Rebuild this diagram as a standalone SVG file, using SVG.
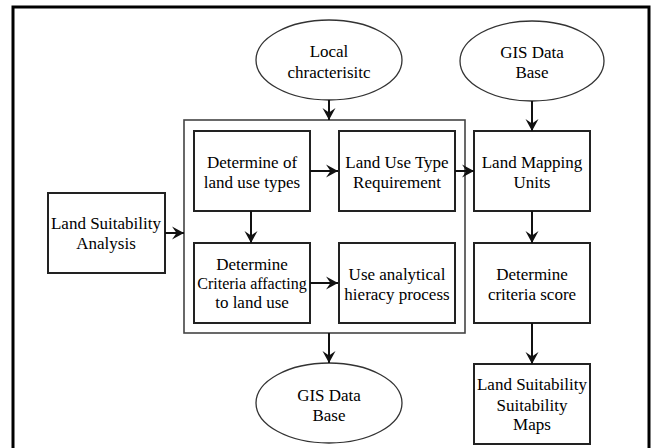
<svg xmlns="http://www.w3.org/2000/svg" width="653" height="448" viewBox="0 0 653 448">
<defs>
<marker id="ah" markerUnits="userSpaceOnUse" markerWidth="14" markerHeight="14" viewBox="-13 -7 14 14" refX="0" refY="0" orient="auto">
<path d="M0,0 L-12,-6.5 L-7.5,0 L-12,6.5 Z" fill="#111"/>
</marker>
</defs>
<rect width="653" height="448" fill="#fff"/>
<rect x="13" y="7" width="636" height="460" fill="none" stroke="#000" stroke-width="3"/>
<g id="container"><rect x="184" y="120" width="281" height="213" fill="none" stroke="#444" stroke-width="1.6"/></g>
<g id="local"><ellipse cx="329" cy="60" rx="73" ry="40" fill="#fff" stroke="#333" stroke-width="1.3"/><text x="329" y="57" font-family="Liberation Serif" font-size="17" text-anchor="middle">Local</text><text x="329" y="78" font-family="Liberation Serif" font-size="17" text-anchor="middle">chracterisitc</text></g>
<g id="gis-top"><ellipse cx="532" cy="61" rx="72" ry="40" fill="#fff" stroke="#333" stroke-width="1.3"/><text x="532" y="58" font-family="Liberation Serif" font-size="17" text-anchor="middle">GIS Data</text><text x="532" y="78" font-family="Liberation Serif" font-size="17" text-anchor="middle">Base</text></g>
<g id="determine-types"><rect x="194" y="131" width="116" height="80" fill="#fff" stroke="#222" stroke-width="2"/><text x="252" y="168" font-family="Liberation Serif" font-size="17" text-anchor="middle">Determine of</text><text x="252" y="188" font-family="Liberation Serif" font-size="17" text-anchor="middle">land use types</text></g>
<g id="land-use-req"><rect x="339" y="131" width="116" height="80" fill="#fff" stroke="#222" stroke-width="2"/><text x="397" y="168" font-family="Liberation Serif" font-size="17" text-anchor="middle">Land Use Type</text><text x="397" y="188" font-family="Liberation Serif" font-size="17" text-anchor="middle">Requirement</text></g>
<g id="determine-criteria"><rect x="194" y="243" width="116" height="80" fill="#fff" stroke="#222" stroke-width="2"/><text x="252" y="270" font-family="Liberation Serif" font-size="17" text-anchor="middle">Determine</text><text x="252" y="289" font-family="Liberation Serif" font-size="16" text-anchor="middle">Criteria affacting</text><text x="252" y="308" font-family="Liberation Serif" font-size="17" text-anchor="middle">to land use</text></g>
<g id="ahp"><rect x="339" y="243" width="116" height="80" fill="#fff" stroke="#222" stroke-width="2"/><text x="397" y="280" font-family="Liberation Serif" font-size="17" text-anchor="middle">Use analytical</text><text x="397" y="300" font-family="Liberation Serif" font-size="17" text-anchor="middle">hieracy process</text></g>
<g id="land-mapping"><rect x="474" y="131" width="116" height="80" fill="#fff" stroke="#222" stroke-width="2"/><text x="532" y="168" font-family="Liberation Serif" font-size="17" text-anchor="middle">Land Mapping</text><text x="532" y="188" font-family="Liberation Serif" font-size="17" text-anchor="middle">Units</text></g>
<g id="criteria-score"><rect x="474" y="243" width="116" height="80" fill="#fff" stroke="#222" stroke-width="2"/><text x="532" y="280" font-family="Liberation Serif" font-size="17" text-anchor="middle">Determine</text><text x="532" y="300" font-family="Liberation Serif" font-size="17" text-anchor="middle">criteria score</text></g>
<g id="suitability-maps"><rect x="474" y="364" width="116" height="80" fill="#fff" stroke="#222" stroke-width="2"/><text x="532" y="390" font-family="Liberation Serif" font-size="17" text-anchor="middle">Land Suitability</text><text x="532" y="411" font-family="Liberation Serif" font-size="17" text-anchor="middle">Suitability</text><text x="532" y="430" font-family="Liberation Serif" font-size="17" text-anchor="middle">Maps</text></g>
<g id="lsa"><rect x="48" y="193" width="117" height="80" fill="#fff" stroke="#222" stroke-width="2"/><text x="106" y="229" font-family="Liberation Serif" font-size="17" text-anchor="middle">Land Suitability</text><text x="106" y="249" font-family="Liberation Serif" font-size="17" text-anchor="middle">Analysis</text></g>
<g id="gis-bottom"><ellipse cx="329" cy="403" rx="73" ry="40" fill="#fff" stroke="#333" stroke-width="1.3"/><text x="329" y="401" font-family="Liberation Serif" font-size="17" text-anchor="middle">GIS Data</text><text x="329" y="421" font-family="Liberation Serif" font-size="17" text-anchor="middle">Base</text></g>
<g id="connectors" stroke="#111" stroke-width="2" fill="none" marker-end="url(#ah)">
<line x1="329" y1="100" x2="329" y2="120"/>
<line x1="532" y1="101" x2="532" y2="131"/>
<line x1="310" y1="171" x2="338" y2="171"/>
<line x1="455" y1="171" x2="474" y2="171"/>
<line x1="251" y1="211" x2="251" y2="243"/>
<line x1="310" y1="283" x2="338" y2="283"/>
<line x1="165" y1="233" x2="184" y2="233"/>
<line x1="329" y1="333" x2="329" y2="363"/>
<line x1="532" y1="211" x2="532" y2="243"/>
<line x1="532" y1="323" x2="532" y2="364"/>
</g>
</svg>
